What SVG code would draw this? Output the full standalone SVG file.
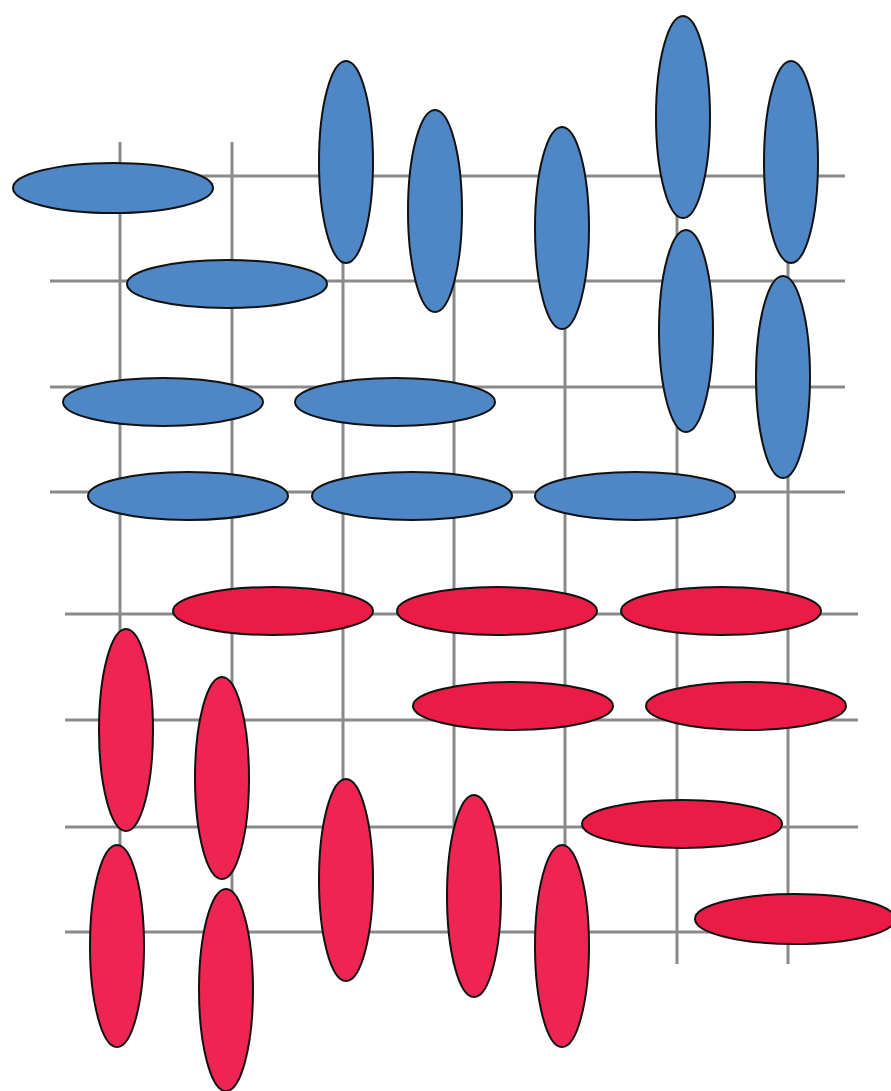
<svg xmlns="http://www.w3.org/2000/svg" width="891" height="1091" viewBox="0 0 891 1091">
<style>
.grid line{stroke:#8a8a8a;stroke-width:3}
.b{fill:#4f86c6;stroke:#111;stroke-width:2}
.rh{fill:#ea1c45;stroke:#111;stroke-width:2}
.rv{fill:#ee2453;stroke:#111;stroke-width:2}
</style>
<rect width="891" height="1091" fill="#fff"/>
<g id="grid" class="grid">
<line x1="120" y1="142" x2="120" y2="964"/>
<line x1="232" y1="142" x2="232" y2="964"/>
<line x1="343" y1="142" x2="343" y2="964"/>
<line x1="454" y1="142" x2="454" y2="964"/>
<line x1="565" y1="142" x2="565" y2="964"/>
<line x1="677" y1="142" x2="677" y2="964"/>
<line x1="788" y1="142" x2="788" y2="964"/>
<line x1="50" y1="176" x2="845" y2="176"/>
<line x1="50" y1="281" x2="845" y2="281"/>
<line x1="50" y1="387" x2="845" y2="387"/>
<line x1="50" y1="492" x2="845" y2="492"/>
<line x1="65" y1="614" x2="858" y2="614"/>
<line x1="65" y1="720" x2="858" y2="720"/>
<line x1="65" y1="827" x2="858" y2="827"/>
<line x1="65" y1="932" x2="858" y2="932"/>
</g>
<g id="blue">
<ellipse id="b1" class="b" cx="113" cy="188" rx="100" ry="25"/>
<ellipse id="b2" class="b" cx="227" cy="284" rx="100" ry="24"/>
<ellipse id="b3" class="b" cx="163" cy="402" rx="100" ry="24"/>
<ellipse id="b4" class="b" cx="395" cy="402" rx="100" ry="24"/>
<ellipse id="b5" class="b" cx="188" cy="496" rx="100" ry="24"/>
<ellipse id="b6" class="b" cx="412" cy="496" rx="100" ry="24"/>
<ellipse id="b7" class="b" cx="635" cy="496" rx="100" ry="24"/>
<ellipse id="b8" class="b" cx="346" cy="162" rx="27" ry="101"/>
<ellipse id="b9" class="b" cx="435" cy="211" rx="27" ry="101"/>
<ellipse id="b10" class="b" cx="562" cy="228" rx="27" ry="101"/>
<ellipse id="b11" class="b" cx="683" cy="117" rx="27" ry="101"/>
<ellipse id="b12" class="b" cx="791" cy="162" rx="27" ry="101"/>
<ellipse id="b13" class="b" cx="686" cy="331" rx="27" ry="101"/>
<ellipse id="b14" class="b" cx="783" cy="377" rx="27" ry="101"/>
</g>
<g id="red">
<ellipse id="r1" class="rh" cx="273" cy="611" rx="100" ry="24"/>
<ellipse id="r2" class="rh" cx="497" cy="611" rx="100" ry="24"/>
<ellipse id="r3" class="rh" cx="721" cy="611" rx="100" ry="24"/>
<ellipse id="r4" class="rh" cx="513" cy="706" rx="100" ry="24"/>
<ellipse id="r5" class="rh" cx="746" cy="706" rx="100" ry="24"/>
<ellipse id="r6" class="rh" cx="682" cy="824" rx="100" ry="24"/>
<ellipse id="r7" class="rh" cx="795" cy="919" rx="100" ry="25"/>
<ellipse id="r8" class="rv" cx="126" cy="730" rx="27" ry="101"/>
<ellipse id="r9" class="rv" cx="222" cy="778" rx="27" ry="101"/>
<ellipse id="r10" class="rv" cx="117" cy="946" rx="27" ry="101"/>
<ellipse id="r11" class="rv" cx="226" cy="990" rx="27" ry="101"/>
<ellipse id="r12" class="rv" cx="346" cy="880" rx="27" ry="101"/>
<ellipse id="r13" class="rv" cx="474" cy="896" rx="27" ry="101"/>
<ellipse id="r14" class="rv" cx="562" cy="946" rx="27" ry="101"/>
</g>
</svg>
